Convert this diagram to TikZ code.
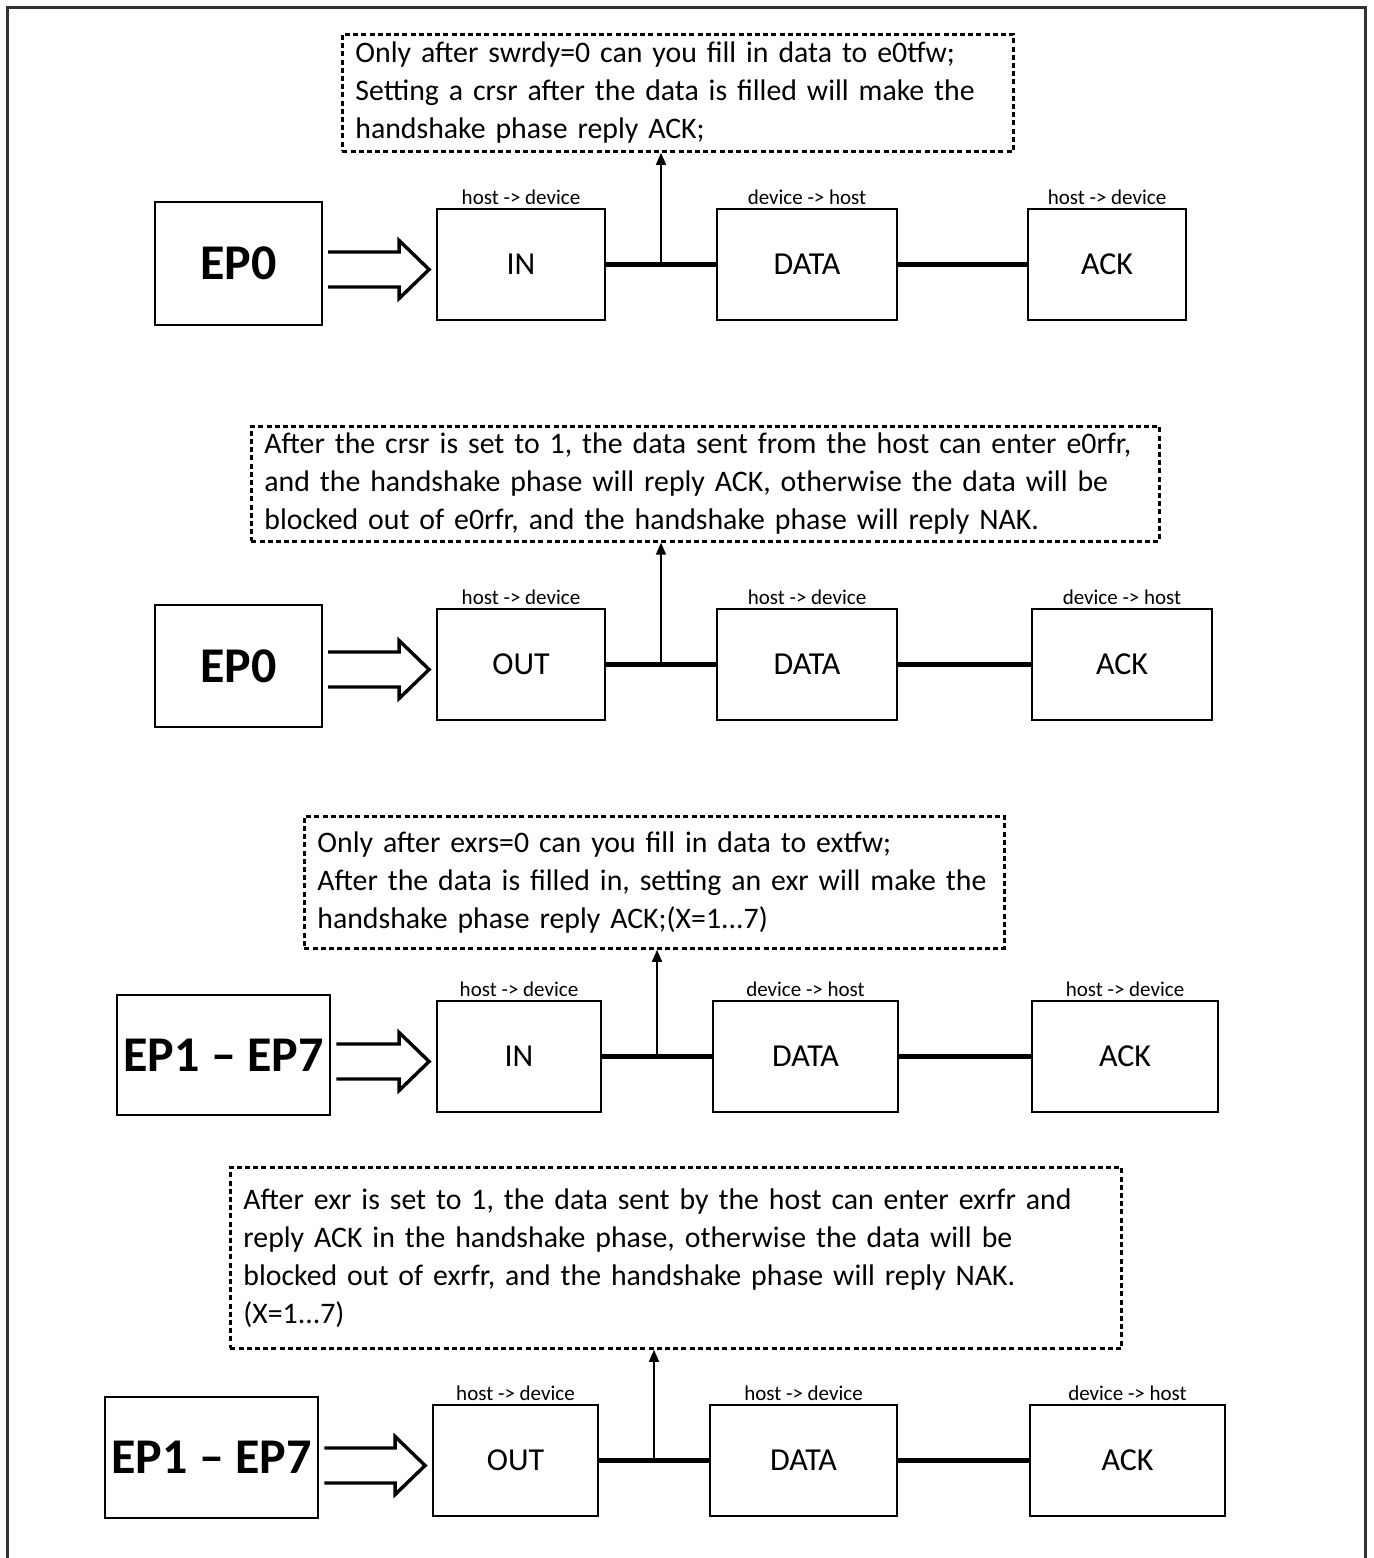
\documentclass[tikz,border=0pt]{standalone}
\usepackage{fontspec}
\setmainfont{Carlito}
\usetikzlibrary{arrows.meta,positioning,calc}

% hollow "fat" arrow from an endpoint box into a stage box
\newcommand{\fatarrow}[2]{%
  \coordinate (fa tip)  at ($(#2.west)+(-7,5)$);
  \coordinate (fa tail) at ($(fa tip -| #1.east)+(5,0)$);
  \draw[fat] ($(fa tail)+(0,-17.5)$) -- ($(fa tip)+(-30,-17.5)$)
    -- ($(fa tip)+(-30,-29)$) -- (fa tip) -- ($(fa tip)+(-30,29)$)
    -- ($(fa tip)+(-30,17.5)$) -- ($(fa tail)+(0,17.5)$);
}

\begin{document}
\begin{tikzpicture}[x=0.5pt,y=-0.5pt,
    epbox/.style={draw,line width=1pt,font=\fontsize{25}{29}\selectfont\bfseries},
    stage/.style={draw,line width=0.9pt,minimum height=55.5pt,
                  font=\fontsize{16}{19}\selectfont},
    dir/.style={font=\fontsize{10.5}{12}\selectfont,inner sep=1.5pt},
    note/.style={draw,line width=1.4pt,dash pattern=on 2.5pt off 1.6pt,
                 anchor=north west,inner xsep=6.5pt,align=left,
                 font=\fontsize{14.9}{19}\selectfont},
    link/.style={line width=2.3pt},
    up/.style={-{Triangle[length=6pt,width=5pt]},line width=0.75pt},
    fat/.style={line width=1.7pt,line join=miter},
    frame/.style={line width=1.5pt,black!80}]
  \useasboundingbox (0,0) rectangle (1373,1558);
  \draw[frame] (7,1560) -- (7,7) -- (1365,7) -- (1365,1560);

  % EP0 IN
  \node[note,minimum width=335.5pt,minimum height=58.5pt,text width=322.5pt]
    (note1) at (341,33) {Only after swrdy=0 can you fill in data to e0tfw;\\
    Setting a crsr after the data is filled will make the\\
    handshake phase reply ACK;};
  \node[epbox,minimum width=83.5pt,minimum height=61.5pt] (ep1) at (238.5,263.5) {EP0};
  \node[stage,minimum width=84pt,label={[dir]above:host -> device}] (in1) at (521,264.5) {IN};
  \node[stage,minimum width=90pt,label={[dir]above:device -> host}] (data1) at (807,264.5) {DATA};
  \node[stage,minimum width=79pt,label={[dir]above:host -> device}] (ack1) at (1107,264.5) {ACK};
  \fatarrow{ep1}{in1}
  \draw[link] (in1.east) -- (data1.west);
  \draw[link] (data1.east) -- (ack1.west);
  \coordinate (j1) at ($(in1.east)!.5!(data1.west)$);
  \draw[up] (j1) -- (j1 |- note1.south);

  % EP0 OUT
  \node[note,minimum width=454pt,minimum height=53pt,text width=441pt]
    (note2) at (250,425) {After the crsr is set to 1, the data sent from the host can enter e0rfr,\\
    and the handshake phase will reply ACK, otherwise the data will be\\
    blocked out of e0rfr, and the handshake phase will reply NAK.};
  \node[epbox,minimum width=83.5pt,minimum height=61pt] (ep2) at (238.5,666) {EP0};
  \node[stage,minimum width=84pt,label={[dir]above:host -> device}] (out2) at (521,664.5) {OUT};
  \node[stage,minimum width=90pt,label={[dir]above:host -> device}] (data2) at (807,664.5) {DATA};
  \node[stage,minimum width=90pt,label={[dir]above:device -> host}] (ack2) at (1122,664.5) {ACK};
  \fatarrow{ep2}{out2}
  \draw[link] (out2.east) -- (data2.west);
  \draw[link] (data2.east) -- (ack2.west);
  \coordinate (j2) at ($(out2.east)!.5!(data2.west)$);
  \draw[up] (j2) -- (j2 |- note2.south);

  % EP1-EP7 IN
  \node[note,minimum width=350pt,minimum height=66pt,text width=337pt]
    (note3) at (303,815) {Only after exrs=0 can you fill in data to extfw;\\
    After the data is filled in, setting an exr will make the\\
    handshake phase reply ACK;(X=1...7)};
  \node[epbox,minimum width=105.5pt,minimum height=60pt] (ep3) at (223.5,1055) {EP1 -- EP7};
  \node[stage,minimum width=82pt,label={[dir]above:host -> device}] (in3) at (519,1056.5) {IN};
  \node[stage,minimum width=92.5pt,label={[dir]above:device -> host}] (data3) at (805.5,1056.5) {DATA};
  \node[stage,minimum width=93pt,label={[dir]above:host -> device}] (ack3) at (1125,1056.5) {ACK};
  \fatarrow{ep3}{in3}
  \draw[link] (in3.east) -- (data3.west);
  \draw[link] (data3.east) -- (ack3.west);
  \coordinate (j3) at ($(in3.east)!.5!(data3.west)$);
  \draw[up] (j3) -- (j3 |- note3.south);

  % EP1-EP7 OUT
  \node[note,minimum width=445.5pt,minimum height=90.5pt,text width=432.5pt]
    (note4) at (229,1166) {After exr is set to 1, the data sent by the host can enter exrfr and\\
    reply ACK in the handshake phase, otherwise the data will be\\
    blocked out of exrfr, and the handshake phase will reply NAK.\\
    (X=1...7)};
  \node[epbox,minimum width=106.5pt,minimum height=60.5pt] (ep4) at (211.5,1457.5) {EP1 -- EP7};
  \node[stage,minimum width=82.5pt,label={[dir]above:host -> device}] (out4) at (515.5,1460.5) {OUT};
  \node[stage,minimum width=93.5pt,label={[dir]above:host -> device}] (data4) at (803.5,1460.5) {DATA};
  \node[stage,minimum width=97.5pt,label={[dir]above:device -> host}] (ack4) at (1127.5,1460.5) {ACK};
  \fatarrow{ep4}{out4}
  \draw[link] (out4.east) -- (data4.west);
  \draw[link] (data4.east) -- (ack4.west);
  \coordinate (j4) at ($(out4.east)!.5!(data4.west)$);
  \draw[up] (j4) -- (j4 |- note4.south);
\end{tikzpicture}
\end{document}
